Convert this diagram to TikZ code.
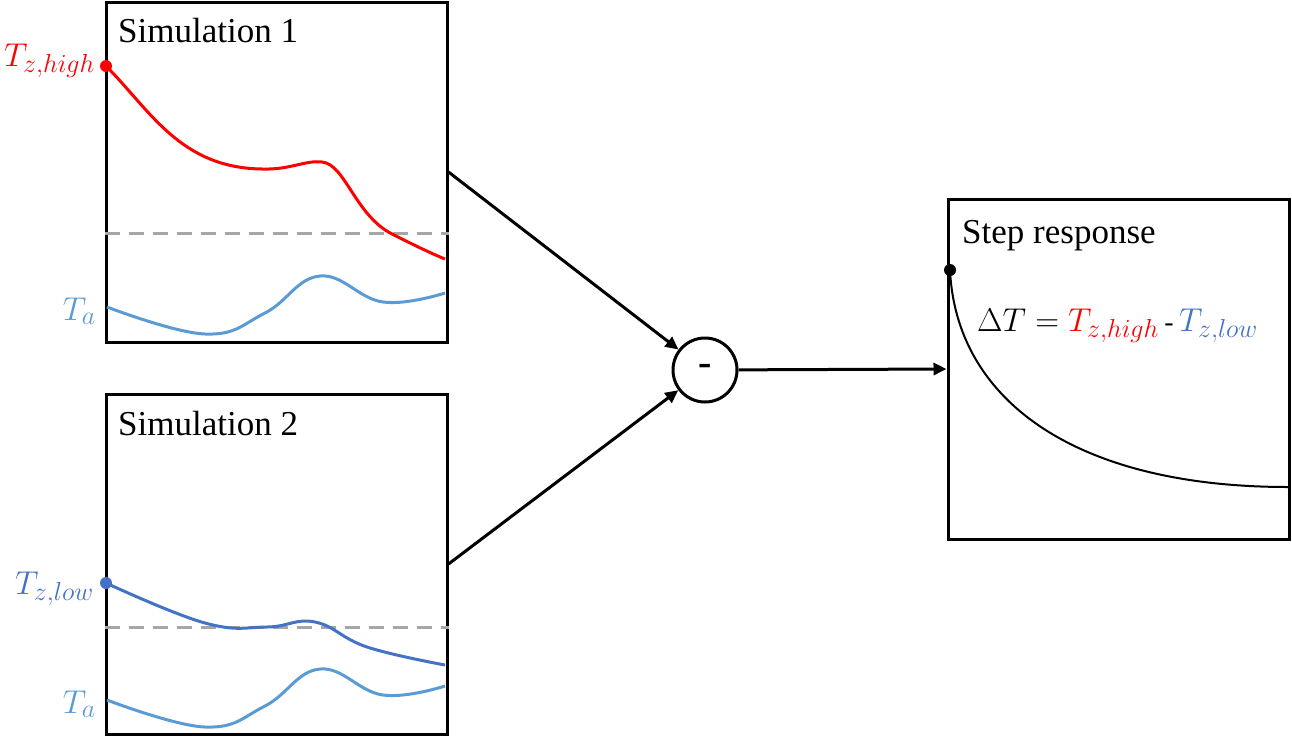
\RequirePackage{fix-cm}
\documentclass[tikz,border=0pt]{standalone}
\usepackage{fontspec}
\setmainfont{Liberation Serif}
\DeclareMathSizes{33}{33}{26}{20}
\usetikzlibrary{arrows.meta}
\definecolor{zred}{RGB}{255,0,0}
\definecolor{zlow}{RGB}{68,114,196}
\definecolor{zamb}{RGB}{91,155,213}
\definecolor{zgray}{RGB}{166,166,166}
\tikzset{
  panel/.style={draw=black, line width=3pt, minimum width=341pt, minimum height=340pt, inner sep=0pt},
  title/.style={inner sep=0pt, anchor=base west, font=\fontsize{35}{40}\selectfont},
  mlabel/.style={inner sep=0pt, font=\fontsize{33}{38}\selectfont},
  curve/.style={line width=3pt, smooth, tension=0.7},
  refline/.style={zgray, line width=3pt, dash pattern=on 15pt off 9pt},
  arr/.style={line width=3pt, -{Triangle[length=13pt,width=12pt]}},
  dotnode/.style={circle, fill, inner sep=0pt, minimum size=12pt}
}
\begin{document}
\begin{tikzpicture}[x=1pt,y=-1pt]
\useasboundingbox (0,0) rectangle (1292,737);
% panels
\node[panel] (sim1) at (276.5,172) {};
\node[panel] (sim2) at (276.5,564) {};
\node[panel] (step) at (1118.5,369) {};
\node[title] (t1) at (118,42) {Simulation 1};
\node[title] (t2) at (118,435) {Simulation 2};
\node[title] (t3) at (962,243) {Step response};
% reference lines
\draw[refline] (sim1.west |- 0,233) coordinate (d1a) -- (sim1.east |- 0,233) coordinate (d1b);
\draw[refline] (sim2.west |- 0,627) coordinate (d2a) -- (sim2.east |- 0,627) coordinate (d2b);
% curves panel 1
\draw[line width=3pt, zred] (106,66) .. controls (150,110) and (180,168) .. (262,169)
  .. controls (290,170) and (305,160) .. (322,162)
  .. controls (345,164) and (355,215) .. (392,234)
  .. controls (410,243) and (430,253) .. (445,259);
\draw[curve, zamb] plot coordinates {(107,307) (205,334) (265,313) (320,276) (383,302) (445,293)};
% curves panel 2
\draw[curve, zlow] plot coordinates {(106,583) (205,623) (267,627) (315,622) (367,647) (445,665)};
\draw[curve, zamb] plot coordinates {(107,700) (205,727) (265,706) (320,669) (383,695) (445,686)};
% dots
\node[dotnode, zred] (p1) at (106,66) {};
\node[dotnode, zlow] (p2) at (106,583) {};
\node[dotnode, black] (p3) at (950,270) {};
% labels
\node[mlabel, anchor=base east, text=zred] (l1) at (95,66) {$T_{z,high}$};
\node[mlabel, anchor=base east, text=zamb] (l2) at (96,320) {$T_a$};
\node[mlabel, anchor=base east, text=zlow] (l3) at (94,594) {$T_{z,low}$};
\node[mlabel, anchor=base east, text=zamb] (l4) at (96,713) {$T_a$};
% step response curve
\draw[line width=2pt] (p3.center) .. controls (956,400) and (1075,487) .. (1288,487);
\node[mlabel, anchor=base west] (eq) at (977,331) {$\Delta T = {\color{zred}T_{z,high}}$\,{\fontsize{28}{30}\selectfont -}\,{\color{zlow}$T_{z,low}$}};
% operator
\node[draw, circle, line width=3pt, minimum size=64pt, inner sep=0pt, font=\fontsize{40}{40}\selectfont\bfseries] (minus) at (705,370) {-};
% connectors
\draw[arr] (sim1.east) -- (minus);
\draw[arr] (sim2.east) -- (minus);
\draw[arr] (minus) -- (step.west);
\end{tikzpicture}
\end{document}
